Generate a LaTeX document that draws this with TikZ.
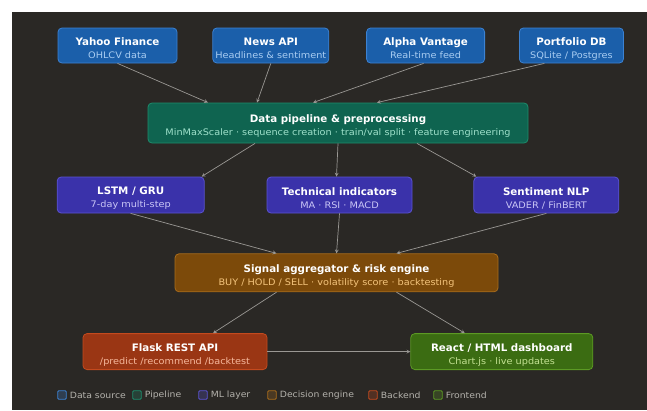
\documentclass[tikz,border=0pt]{standalone}
\usepackage{fontspec}
\setmainfont{DejaVu Sans}
\newfontfamily\subfont{DejaVu Sans}[FakeStretch=1.08]
\usetikzlibrary{positioning}

\definecolor{bgdark}{HTML}{2A2825}
\definecolor{arrowgray}{HTML}{9A9894}
\definecolor{legtext}{HTML}{B4B2AC}
\definecolor{srcfill}{HTML}{1B5FAA}
\definecolor{srcline}{HTML}{3C82D2}
\definecolor{srcsub}{HTML}{A9CDF2}
\definecolor{pipefill}{HTML}{0F6450}
\definecolor{pipeline}{HTML}{1E8C6C}
\definecolor{pipesub}{HTML}{9FE1CB}
\definecolor{mlfill}{HTML}{3A32AA}
\definecolor{mlline}{HTML}{5B53D2}
\definecolor{mlsub}{HTML}{CAC6F6}
\definecolor{decfill}{HTML}{7C4A0A}
\definecolor{decline}{HTML}{A86C1C}
\definecolor{decsub}{HTML}{F4C47C}
\definecolor{backfill}{HTML}{9A3614}
\definecolor{backline}{HTML}{C44A1E}
\definecolor{backsub}{HTML}{F6B89C}
\definecolor{frontfill}{HTML}{3B6C12}
\definecolor{frontline}{HTML}{5C9A24}
\definecolor{frontsub}{HTML}{C4E294}

\newcommand{\boxlabel}[3]{{\fontsize{10.3}{12}\selectfont\bfseries\rule{0pt}{14pt}#1}\\[1pt]{\subfont\fontsize{9}{10}\selectfont\color{#3}#2}}

\tikzset{
    box/.style={draw, rounded corners=4pt, line width=0.8pt, minimum height=35pt,
        align=center, inner xsep=0pt, inner ysep=1pt, text=white},
    srcbox/.style={box, fill=srcfill, draw=srcline},
    pipebox/.style={box, fill=pipefill, draw=pipeline, minimum height=40pt},
    mlbox/.style={box, fill=mlfill, draw=mlline, minimum height=36pt},
    decbox/.style={box, fill=decfill, draw=decline, minimum height=38pt},
    backbox/.style={box, fill=backfill, draw=backline, minimum height=36pt},
    frontbox/.style={box, fill=frontfill, draw=frontline, minimum height=36pt},
    flow/.style={->, >=stealth, draw=arrowgray, line width=0.7pt},
    legbox/.style={draw, rounded corners=1pt, line width=0.8pt, minimum size=8.5pt, inner sep=0pt},
}

\begin{document}
\begin{tikzpicture}[x=1pt, y=-1pt]
        \useasboundingbox (0,0) rectangle (647,410);
        \fill[white] (0,0) rectangle (647,410);
        \fill[bgdark] (12,12) rectangle (647,410);

        \node[srcbox, minimum width=119pt] (box 0) at (117.5,45.5) {\boxlabel{Yahoo Finance}{OHLCV data}{srcsub}};
        \node[srcbox, minimum width=116pt, right=35pt of box 0] (box 1) {\boxlabel{News API}{Headlines \& sentiment}{srcsub}};
        \node[srcbox, minimum width=118pt, right=37pt of box 1] (box 2) {\boxlabel{Alpha Vantage}{Real-time feed}{srcsub}};
        \node[srcbox, minimum width=104pt, right=34pt of box 2] (box 3) {\boxlabel{Portfolio DB}{SQLite / Postgres}{srcsub}};

        \node[pipebox, minimum width=380pt] (box 4) at (338,123) {\boxlabel{Data pipeline \& preprocessing}{MinMaxScaler · sequence creation · train/val split · feature engineering}{pipesub}};

        \node[mlbox, minimum width=145pt] (box 6) at (339.5,195) {\boxlabel{Technical indicators}{MA · RSI · MACD}{mlsub}};
        \node[mlbox, minimum width=147pt, left=62pt of box 6] (box 5) {\boxlabel{LSTM / GRU}{7-day multi-step}{mlsub}};
        \node[mlbox, minimum width=145pt, right=61pt of box 6] (box 7) {\boxlabel{Sentiment NLP}{VADER / FinBERT}{mlsub}};

        \node[decbox, minimum width=323pt, below=40pt of box 6, xshift=-3pt] (box 9) {\boxlabel{Signal aggregator \& risk engine}{BUY / HOLD / SELL · volatility score · backtesting}{decsub}};

        \node[backbox, minimum width=184pt, below=41pt of box 9, xshift=-161.5pt] (box 10) {\boxlabel{Flask REST API}{/predict /recommend /backtest}{backsub}};
        \node[frontbox, minimum width=182pt, right=143pt of box 10] (box 11) {\boxlabel{React / HTML dashboard}{Chart.js · live updates}{frontsub}};

        % sources -> pipeline
        \foreach \i/\a/\b in {0/0/-130, 1/0/-81, 2/-2/-25, 3/-27/39}
        \draw[flow] ([xshift=\a pt]box \i.south) -- ([xshift=\b pt]box 4.north);

        % pipeline -> models
        \draw[flow] ([xshift=-83pt]box 4.south) -- ([xshift=-3pt]box 5.north east);
        \draw[flow] (box 4.south) -- ([xshift=-3pt]box 6.north);
        \draw[flow] ([xshift=79pt]box 4.south) -- ([xshift=3pt]box 7.north west);

        % models -> signal
        \draw[flow] (box 5.south) -- ([xshift=-60pt]box 9.north);
        \draw[flow] (box 6.south) -- (box 9.north);
        \draw[flow] (box 7.south) -- ([xshift=60pt]box 9.north);

        % signal -> backend / frontend
        \draw[flow] ([xshift=-60pt]box 9.south) -- ([xshift=38pt]box 10.north);
        \draw[flow] ([xshift=60pt]box 9.south) -- ([xshift=-37pt]box 11.north);
        \draw[flow] (box 10) -- (box 11);

        % legend
        \foreach \x/\c/\t/\i in {62/srcline/Data source/0, 137/pipeline/Pipeline/1, 203/mlline/ML layer/2,
            272/decline/Decision engine/3, 373/backline/Backend/4, 438/frontline/Frontend/5}
        {
        \node[legbox, draw=\c, fill=\c!25!bgdark] (leg \i) at (\x,395) {};
        \node[right=3pt of leg \i, text=legtext, font=\subfont\fontsize{8.6}{10}\selectfont, inner sep=0pt] (legtext \i) {\t};
        }

    \end{tikzpicture}
\end{document}
